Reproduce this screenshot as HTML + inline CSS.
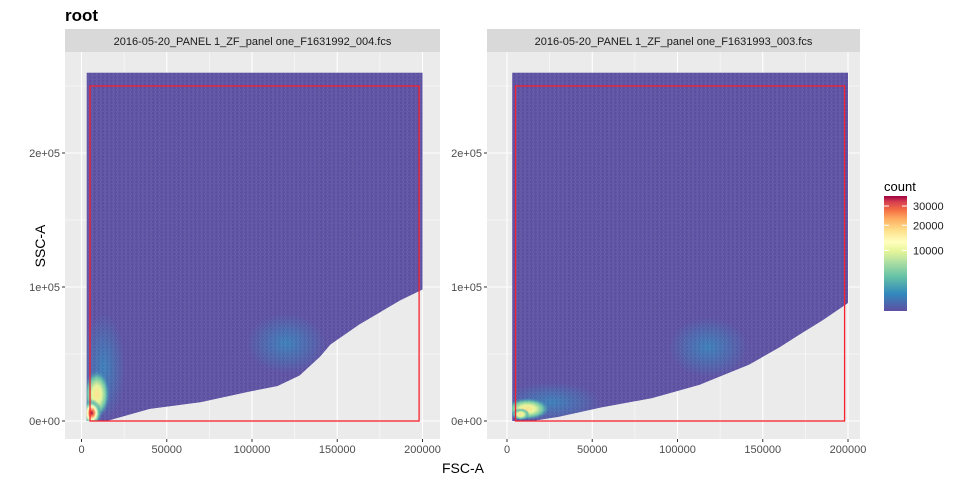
<!DOCTYPE html>
<html><head><meta charset="utf-8"><style>
body{margin:0;background:#fff;font-family:"Liberation Sans",sans-serif;}
svg text{font-family:"Liberation Sans",sans-serif;}
</style></head><body>
<svg id="c" width="960" height="480" xmlns="http://www.w3.org/2000/svg">
<defs>
<linearGradient id="lg" x1="0" y1="1" x2="0" y2="0">
<stop offset="0" stop-color="#5E4FA2"/><stop offset="0.15" stop-color="#3288BD"/><stop offset="0.3" stop-color="#66C2A5"/>
<stop offset="0.42" stop-color="#ABDDA4"/><stop offset="0.52" stop-color="#E6F598"/><stop offset="0.6" stop-color="#FFFFBF"/>
<stop offset="0.7" stop-color="#FEE08B"/><stop offset="0.8" stop-color="#FDAE61"/><stop offset="0.88" stop-color="#F46D43"/>
<stop offset="0.95" stop-color="#D53E4F"/><stop offset="1" stop-color="#9E0142"/></linearGradient>
<radialGradient id="hot1"><stop offset="0" stop-color="#9E0142"/><stop offset="0.2" stop-color="#F46D43"/><stop offset="0.45" stop-color="#FFFFBF"/><stop offset="0.7" stop-color="#66C2A5"/><stop offset="1" stop-color="#3288BD" stop-opacity="0"/></radialGradient>
<radialGradient id="hot2"><stop offset="0" stop-color="#FEE08B"/><stop offset="0.35" stop-color="#E6F598"/><stop offset="0.7" stop-color="#66C2A5"/><stop offset="1" stop-color="#3288BD" stop-opacity="0"/></radialGradient>
<radialGradient id="blue"><stop offset="0" stop-color="#3288BD" stop-opacity="0.8"/><stop offset="1" stop-color="#3288BD" stop-opacity="0"/></radialGradient>
<pattern id="hex" width="4.2" height="3.6" patternUnits="userSpaceOnUse"><circle cx="2.1" cy="1.8" r="1.9" fill="none" stroke="#fff" stroke-opacity="0.12" stroke-width="0.5"/></pattern>
</defs>
<text x="65" y="21" font-size="17" font-weight="bold">root</text>
<g id="panels"></g>
<text x="463" y="473" font-size="14" text-anchor="middle">FSC-A</text>
<text transform="translate(45,246) rotate(-90)" font-size="14" text-anchor="middle">SSC-A</text>
<g>
<text x="884" y="191" font-size="13">count</text>
<rect x="884" y="196" width="23" height="115" fill="url(#lg)"/>
<g id="legticks"></g>
</g>
</svg>
<script>
const xTicks=[0,50000,100000,150000,200000];
const yTicks=[0,100000,200000];
const yTickLabels=["0e+00","1e+05","2e+05"];
const stripLabels=["2016-05-20_PANEL 1_ZF_panel one_F1631992_004.fcs","2016-05-20_PANEL 1_ZF_panel one_F1631993_003.fcs"];
const lowerX1=[4000,15000,40000,70000,99000,115000,128000,140000,146000,163000,187000,200000];
const lowerY1=[0,0,9000,14000,22000,26000,34000,48000,57000,72000,90000,98000];
const lowerX2=[4000,15000,30000,55000,85000,113000,142000,160000,171000,185000,200000];
const lowerY2=[0,0,3000,10000,17000,27000,42000,55000,64000,75000,88000];
const topY=[260000,260000];
const hotX=[[6000,9000,120000],[8000,12000,118000]];
const hotY=[[6000,20000,58000],[5000,9000,55000]];
const legVals=[30000,20000,10000];
const legMax=36000;
const legLabels=["30000","20000","10000"];
const gateX=[5000,198000], gateY=[0,250000];

const NS="http://www.w3.org/2000/svg";
function el(t,a,p){const e=document.createElementNS(NS,t);for(const k in a)e.setAttribute(k,a[k]);p.appendChild(e);return e;}
const panels=document.getElementById('panels');
const P=[{l:65,r:440,x0:81.5},{l:487,r:860,x0:507}];
const pTop=52,pBot=439,y0=421,yk=134/100000,xk=170.5/100000;
P.forEach((p,i)=>{
 const sx=v=>p.x0+v*xk, sy=v=>y0-v*yk;
 const g=el('g',{},panels);
 
 
 const s=el('rect',{x:p.l,y:29,width:p.r-p.l,height:23,fill:'#D9D9D9'},g);
 
 
 const st=el('text',{x:(p.l+p.r)/2,y:45,'font-size':11,'text-anchor':'middle',fill:'#1a1a1a'},g);st.textContent=stripLabels[i];
 
 
 el('rect',{x:p.l,y:pTop,width:p.r-p.l,height:pBot-pTop,fill:'#EBEBEB'},g);
 for(let v=-25000;v<=225000;v+=25000){const x=sx(v);if(x>p.l&&x<p.r)el('line',{x1:x,x2:x,y1:pTop,y2:pBot,stroke:'#fff','stroke-width':(v%50000===0)?1.1:0.5},g);}
 for(let v=-50000;v<=300000;v+=50000){const y=sy(v);if(y>pTop&&y<pBot)el('line',{x1:p.l,x2:p.r,y1:y,y2:y,stroke:'#fff','stroke-width':(v%100000===0)?1.1:0.5},g);}
 const LX=i?lowerX2:lowerX1, LY=i?lowerY2:lowerY1;
 let d=`M${sx(3000)},${sy(topY[i])} L${sx(200000)},${sy(topY[i])}`;
 for(let k=LX.length-1;k>=0;k--)d+=` L${sx(LX[k])},${sy(LY[k])}`;
 d+=` L${sx(3000)},${sy(0)} Z`;
 const cp=el('clipPath',{id:'cp'+i},g);el('path',{d},cp);
 const reg=el('g',{'clip-path':`url(#cp${i})`},g);
 
 
 el('path',{d,fill:'#5B4FA1'},reg);
 el('ellipse',{cx:sx(hotX[i][2]),cy:sy(hotY[i][2]),rx:40,ry:30,fill:'url(#blue)'},reg);
 el('ellipse',{cx:sx(hotX[i][1]+(i?14000:4000)),cy:sy(hotY[i][1]+(i?5000:20000)),rx:i?50:22,ry:i?20:55,fill:'url(#blue)'},reg);
 el('ellipse',{cx:sx(hotX[i][1]),cy:sy(hotY[i][1]),rx:i?22:13,ry:i?11:24,fill:'url(#hot2)'},reg);
 el('ellipse',{cx:sx(hotX[i][0]),cy:sy(hotY[i][0]),rx:i?9:10,ry:i?6:14,fill:i?'url(#hot2)':'url(#hot1)'},reg);
 el('path',{d,fill:'url(#hex)'},reg);
 const gate=el('rect',{x:sx(gateX[0]),y:sy(gateY[1]),width:sx(gateX[1])-sx(gateX[0]),height:sy(gateY[0])-sy(gateY[1]),fill:'none',stroke:'#F8212E','stroke-width':1.3},g);
 
 
 xTicks.forEach(v=>{const x=sx(v);el('line',{x1:x,x2:x,y1:pBot,y2:pBot+3,stroke:'#333'},g);
  const t=el('text',{x,y:pBot+14,'font-size':11,'text-anchor':'middle',fill:'#4d4d4d'},g);t.textContent=v;
  
  });
 yTicks.forEach((v,k)=>{const y=sy(v);el('line',{x1:p.l-3,x2:p.l,y1:y,y2:y,stroke:'#333'},g);
  const t=el('text',{x:p.l-5,y:y+4,'font-size':11,'text-anchor':'end',fill:'#4d4d4d'},g);t.textContent=yTickLabels[k];
  
  });
});
const lt=document.getElementById('legticks');
legVals.forEach((v,k)=>{const y=311-115*Math.sqrt(v/legMax);
 el('line',{x1:884,x2:889,y1:y,y2:y,stroke:'#fff'},lt);el('line',{x1:902,x2:907,y1:y,y2:y,stroke:'#fff'},lt);
 const t=el('text',{x:913,y:y+4,'font-size':11,fill:'#1a1a1a'},lt);t.textContent=legLabels[k];
 
 });
</script>
</body></html>
